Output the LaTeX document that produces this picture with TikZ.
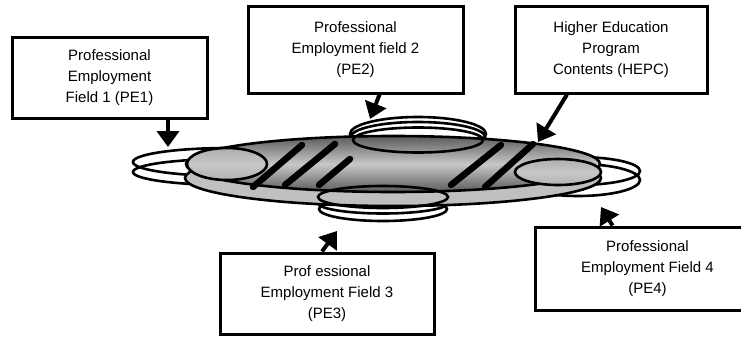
\documentclass[tikz,border=0pt]{standalone}
\usepackage{fontspec}
\setmainfont{Liberation Sans}
\usetikzlibrary{arrows.meta}
\definecolor{discside}{HTML}{C0C0C0}
\definecolor{discdark}{HTML}{5A5A5A}
\definecolor{disclight}{HTML}{C8C8C8}
\begin{document}
\begin{tikzpicture}[x=1pt,y=-1pt,
  box/.style={draw, line width=3pt, rectangle, align=center,
    font=\fontsize{15}{21}\selectfont, inner sep=0pt},
  ring/.style={line width=2.6pt},
  arr/.style={line width=4pt, -{Triangle[length=16pt,width=22pt]}},
  stripe/.style={line width=6.5pt, line cap=round},
]
\useasboundingbox (0,0) rectangle (741,337);

% rims of the four fields, partly hidden behind the disc
\draw[ring] (228,162) ellipse [x radius=95pt, y radius=14pt];
\draw[ring] (228,172) ellipse [x radius=95pt, y radius=13pt];
\draw[ring] (418,134) ellipse [x radius=68pt, y radius=17pt];
\draw[ring] (418,137) ellipse [x radius=67pt, y radius=15pt];
\draw[ring] (383,203) ellipse [x radius=65pt, y radius=10.5pt];
\draw[ring] (383,209) ellipse [x radius=64pt, y radius=12pt];
\draw[ring] (578,171) ellipse [x radius=62pt, y radius=14pt];
\draw[ring] (578,180) ellipse [x radius=62pt, y radius=16pt];

% the programme disc: side and shaded top face
\draw[ring, fill=discside] (393,178) ellipse [x radius=208pt, y radius=28pt];
\draw[ring, top color=discdark, bottom color=discdark, middle color=disclight]
  (393,164) ellipse [x radius=207pt, y radius=28pt];

% overlaps of the fields with the disc
\draw[ring, top color=black!32, bottom color=black!30, middle color=black!22]
  (227,164) ellipse [x radius=40pt, y radius=16pt];
\draw[ring] (418,140) ellipse [x radius=65pt, y radius=12.5pt];
\draw[ring] (383,197) ellipse [x radius=65pt, y radius=11pt];
\draw[ring, top color=black!32, bottom color=black!30, middle color=black!22]
  (558,172) ellipse [x radius=43pt, y radius=13pt];

% hatching on the disc
\draw[stripe] (253,187) -- (302,145);
\draw[stripe] (285,185) -- (335,144);
\draw[stripe] (319,185) -- (350,159);
\draw[stripe] (451,185) -- (501,145);
\draw[stripe] (485,187) -- (533,144);

% labels
\node[box, minimum width=195pt, minimum height=80pt] (pe1) at (109.5,78)
  {Professional\\Employment\\Field 1 (PE1)};
\node[box, minimum width=215pt, minimum height=86pt] (pe2) at (355.5,50)
  {Professional\\Employment field 2\\(PE2)};
\node[box, minimum width=192pt, minimum height=86pt] (hepc) at (611,50)
  {Higher Education\\Program\\Contents (HEPC)};
\node[box, minimum width=214pt, minimum height=81pt] (pe3) at (327,293.5)
  {Prof essional\\Employment Field 3\\(PE3)};
\node[box, minimum width=225pt, minimum height=83pt] (pe4) at (647.5,268.5)
  {Professional\\Employment Field 4\\(PE4)};

% arrow targets on the rings and the disc
\coordinate (t1) at (168,147);
\coordinate (t2) at (370,119);
\coordinate (th) at (538,142);
\coordinate (t3) at (337,231);
\coordinate (t4) at (601,207);

\draw[arr] (pe1.south -| t1) -- (t1);
\draw[arr] ([xshift=24pt]pe2.south) -- (t2);
\draw[arr] ([xshift=-44pt]hepc.south) -- (th);
\draw[arr] ([xshift=-5pt]pe3.north) -- (t3);
\draw[arr] ([xshift=-35pt]pe4.north) -- (t4);
\end{tikzpicture}
\end{document}
